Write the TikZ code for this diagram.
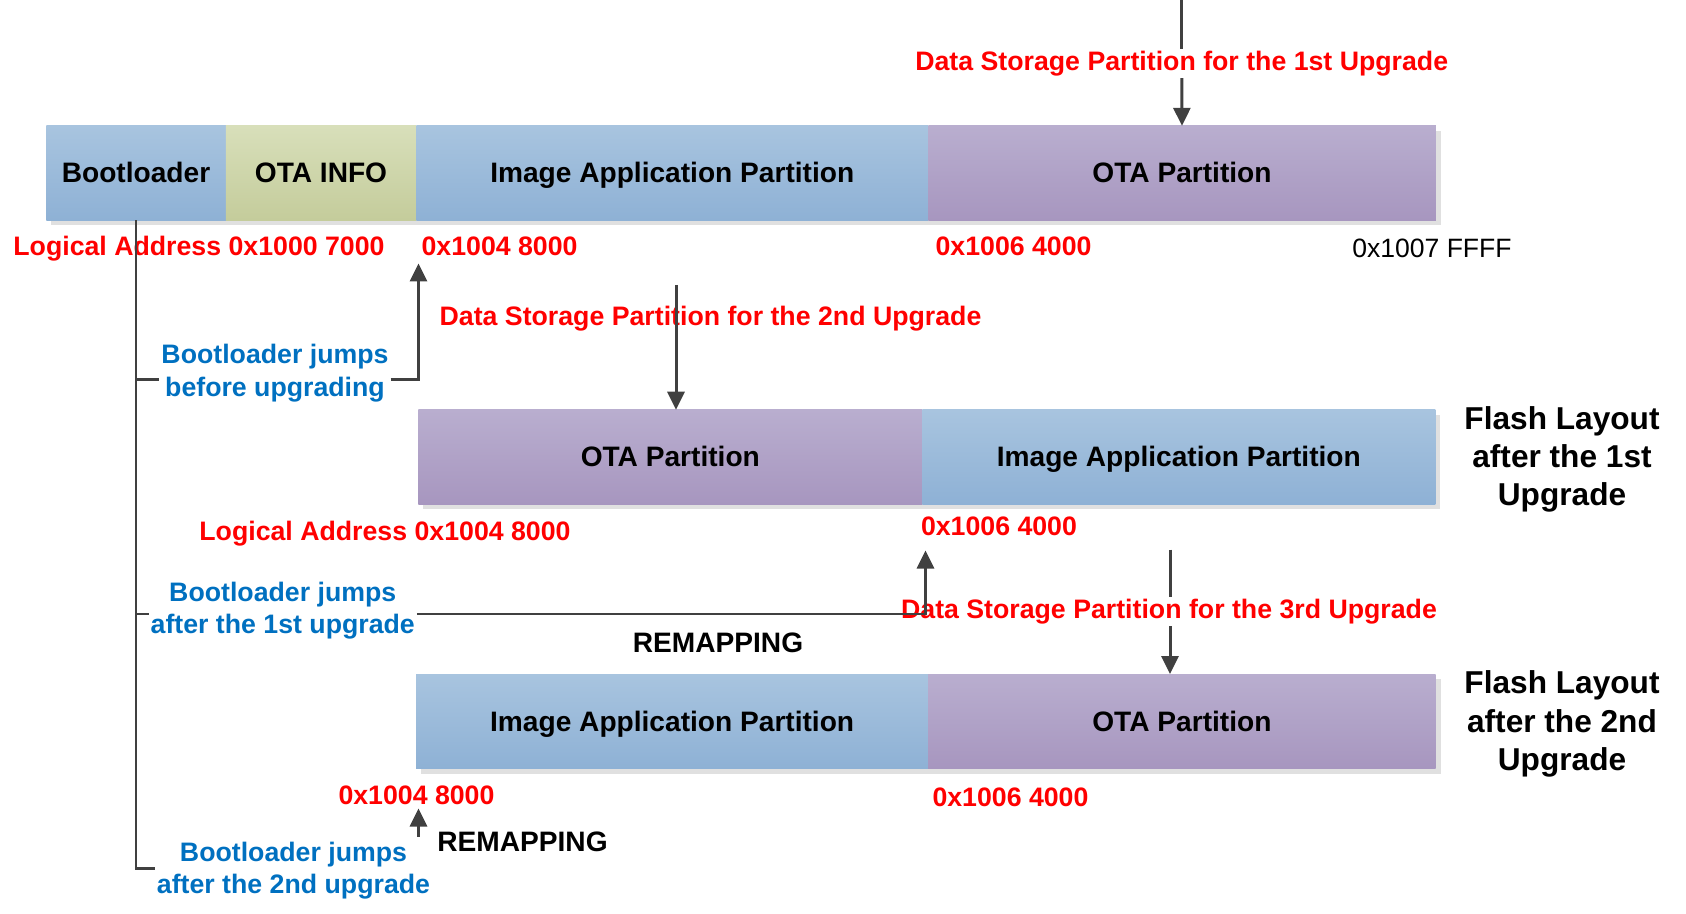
\documentclass[tikz,border=0pt]{standalone}
\usepackage{fontspec}
\setmainfont{Liberation Sans}
\usetikzlibrary{arrows.meta,positioning,shadows}
\definecolor{lineclr}{HTML}{404040}
\definecolor{addrred}{HTML}{FF0000}
\definecolor{jumpblue}{HTML}{0070C0}
\definecolor{apptop}{HTML}{A8C4DF}
\definecolor{appbot}{HTML}{8EB1D5}
\definecolor{otatop}{HTML}{B9AECF}
\definecolor{otabot}{HTML}{A796BF}
\definecolor{infotop}{HTML}{D8DFBA}
\definecolor{infobot}{HTML}{C4CC9B}
\tikzset{
  part/.style={rectangle, outer sep=0pt, inner sep=0pt, minimum height=1.89cm,
    text height=11.6pt, text depth=0.5pt,
    font=\fontsize{16}{19}\selectfont\bfseries,
    drop shadow={shadow xshift=0.1cm, shadow yshift=-0.1cm, fill=black!12, opacity=1}},
  apppart/.style={part, top color=apptop, bottom color=appbot},
  otapart/.style={part, top color=otatop, bottom color=otabot},
  infopart/.style={part, top color=infotop, bottom color=infobot},
  addr/.style={text=addrred, font=\fontsize{15.2}{18}\selectfont\bfseries, inner sep=1pt,
    text height=11pt, text depth=3.2pt},
  jump/.style={text=jumpblue, align=center, font=\fontsize{15.2}{18.4}\selectfont\bfseries, inner sep=1pt},
  layout/.style={align=center, font=\fontsize{18}{21.7}\selectfont\bfseries},
  remap/.style={font=\fontsize{16}{19}\selectfont\bfseries},
  conn/.style={draw=lineclr, line width=1.7pt},
  arr/.style={conn, -{Triangle[length=3.6mm,width=3.4mm]}},
}
\begin{document}
\begin{tikzpicture}
  \useasboundingbox (0,0) rectangle (33.72,-18.28);

  \node[apppart, minimum width=3.59cm, anchor=north west] (boot) at (0.925,-2.516) {Bootloader};
  \node[infopart, minimum width=3.81cm, right=0pt of boot] (info) {OTA INFO};
  \node[apppart, minimum width=10.24cm, right=0pt of info] (app1) {Image Application Partition};
  \node[otapart, minimum width=10.15cm, right=0pt of app1] (ota1) {OTA Partition};

  \node[otapart, minimum width=10.08cm, anchor=north west] (ota2) at (8.366,-8.194) {OTA Partition};
  \node[apppart, minimum width=10.26cm, right=0pt of ota2] (app2) {Image Application Partition};

  \node[apppart, minimum width=10.24cm, anchor=north west] (app3) at (8.323,-13.48) {Image Application Partition};
  \node[otapart, minimum width=10.15cm, right=0pt of app3] (ota3) {OTA Partition};

  \node[addr] (addrA1) at (3.98,-4.98) {Logical Address 0x1000 7000};
  \node[addr, anchor=west] (addrA2) at (8.39,-4.98) {0x1004 8000};
  \node[addr, anchor=west] (addrA3) at (18.67,-4.98) {0x1006 4000};
  \node[font=\fontsize{15.1}{18}\selectfont, inner sep=1pt] (addrA4) at (28.64,-4.97) {0x1007 FFFF};
  \node[addr] (addrB1) at (7.70,-10.665) {Logical Address 0x1004 8000};
  \node[addr] (addrB2) at (19.98,-10.575) {0x1006 4000};
  \node[addr] (addrC1) at (8.33,-15.945) {0x1004 8000};
  \node[addr] (addrC2) at (20.21,-15.99) {0x1006 4000};

  \node[layout] (layout1) at (31.24,-9.195) {Flash Layout\\after the 1st\\Upgrade};
  \node[layout] (layout2) at (31.24,-14.48) {Flash Layout\\after the 2nd\\Upgrade};

  \node[addr] (ds1) at (23.635,-1.27) {Data Storage Partition for the 1st Upgrade};
  \node[addr] (ds2) at (14.21,-6.365) {Data Storage Partition for the 2nd Upgrade};
  \node[addr] (ds3) at (23.38,-12.235) {Data Storage Partition for the 3rd Upgrade};
  \coordinate (ds1top) at (23.635,0);
  \coordinate (ds2top) at (13.52,-5.70);
  \coordinate (ds3top) at (23.40,-10.99);
  \draw[conn] (ds1top) -- (ds1.north);
  \draw[arr] (ds1.south) -- (ota1.north);
  \draw[arr] (ds2top) -- (ds2top |- ota2.north);
  \draw[conn] (ds3top) -- (ds3top |- ds3.north);
  \draw[arr] (ds3top |- ds3.south) -- (ds3top |- ota3.north);

  \node[jump] (jump1) at (5.50,-7.46) {Bootloader jumps\\before upgrading};
  \node[jump] (jump2) at (5.655,-12.21) {Bootloader jumps\\after the 1st upgrade};
  \node[jump] (jump3) at (5.87,-17.415) {Bootloader jumps\\after the 2nd upgrade};

  \coordinate (fork1) at (2.72,-7.59);
  \coordinate (fork2) at (2.72,-12.28);
  \coordinate (fork3) at (2.72,-17.37);
  \coordinate (tip1) at (8.37,-5.27);
  \coordinate (tip2) at (18.51,-11.01);
  \coordinate (tip3) at (8.37,-16.17);
  \coordinate (tail3) at (8.37,-16.73);

  \draw[conn] (boot.south) -- (fork3) -- (fork3 -| jump3.west);
  \draw[conn] (fork1) -- (fork1 -| jump1.west);
  \draw[arr] (jump1.east |- fork1) -| (tip1);
  \draw[conn] (fork2) -- (fork2 -| jump2.west);
  \draw[arr] (jump2.east |- fork2) -| (tip2);
  \draw[arr] (tail3) -- (tip3);

  \node[remap] (remap1) at (14.36,-12.86) {REMAPPING};
  \node[remap] (remap2) at (10.45,-16.84) {REMAPPING};
\end{tikzpicture}
\end{document}
